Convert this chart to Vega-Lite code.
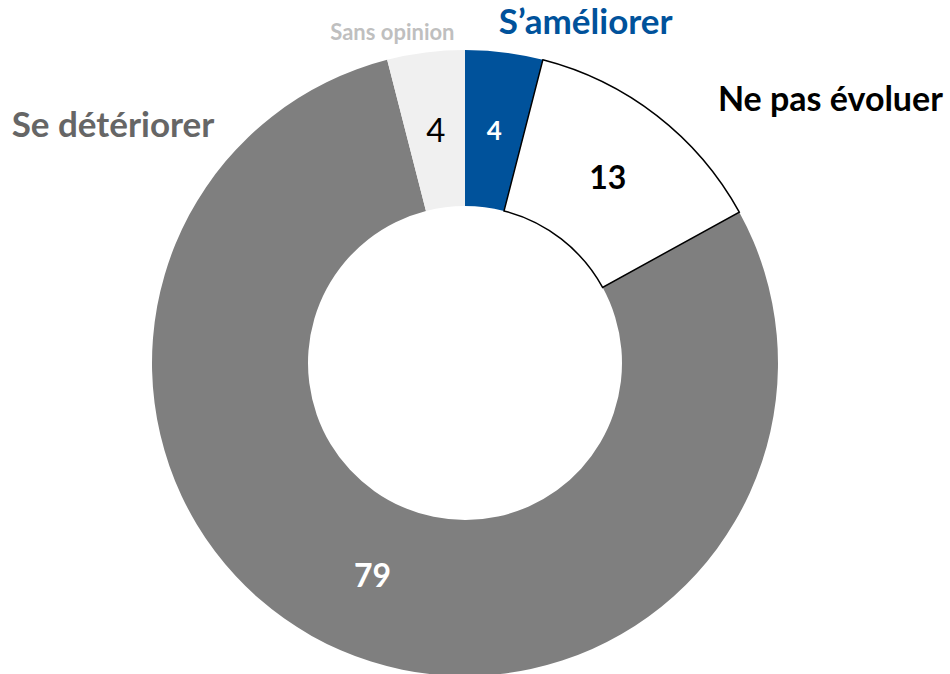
{
  "$schema": "https://vega.github.io/schema/vega-lite/v6.json",
  "width": 930,
  "height": 622,
  "autosize": {"type": "none"},
  "padding": {"left": 0, "top": 52, "right": 20, "bottom": 0},
  "background": "white",
  "config": {"view": {"stroke": null}, "text": {"font": "Lato"}},
  "data": {
    "values": [
      {"cat": "S’améliorer", "value": 4, "rank": 1},
      {"cat": "Ne pas évoluer", "value": 13, "rank": 2},
      {"cat": "Se détériorer", "value": 79, "rank": 3},
      {"cat": "Sans opinion", "value": 4, "rank": 4}
    ]
  },
  "encoding": {
    "theta": {"field": "value", "type": "quantitative", "stack": true},
    "order": {"field": "rank", "type": "quantitative"}
  },
  "layer": [
    {
      "mark": {"type": "arc", "radius": 313, "radius2": 157},
      "encoding": {
        "color": {
          "field": "cat",
          "type": "nominal",
          "scale": {
            "domain": ["S’améliorer", "Ne pas évoluer", "Se détériorer", "Sans opinion"],
            "range": ["#00529B", "#FFFFFF", "#7F7F7F", "#F0F0F0"]
          },
          "legend": null
        }
      }
    },
    {
      "mark": {"type": "arc", "radius": 313, "radius2": 157, "fillOpacity": 0, "strokeWidth": 1.5},
      "encoding": {
        "stroke": {"condition": {"test": "datum.cat === 'Ne pas évoluer'", "value": "#000000"}, "value": "transparent"}
      }
    },
    {
      "mark": {"type": "text", "radius": 233, "fontWeight": "bold", "align": "center", "baseline": "middle"},
      "encoding": {
        "text": {"condition": {"test": "datum.cat !== 'Sans opinion'", "field": "value"}, "value": ""},
        "color": {"condition": {"test": "datum.cat === 'Ne pas évoluer'", "value": "#000000"}, "value": "#FFFFFF"},
        "size": {"condition": {"test": "datum.cat === 'S’améliorer'", "value": 26}, "value": 32}
      }
    },
    {
      "mark": {"type": "text", "radius": 233, "fontWeight": "normal", "align": "center", "baseline": "middle", "fontSize": 33, "color": "#000000"},
      "encoding": {
        "text": {"condition": {"test": "datum.cat === 'Sans opinion'", "field": "value"}, "value": ""}
      }
    },
    {
      "mark": {"type": "text", "radius": 340, "fontWeight": "bold", "align": "center", "baseline": "middle", "fontSize": 35, "color": "#00529B", "dx": 78, "dy": -3},
      "encoding": {
        "text": {"condition": {"test": "datum.cat === 'S’améliorer'", "field": "cat"}, "value": ""}
      }
    },
    {
      "mark": {"type": "text", "radius": 340, "fontWeight": "bold", "align": "center", "baseline": "middle", "fontSize": 34, "color": "#000000", "dx": 157, "dy": 7},
      "encoding": {
        "text": {"condition": {"test": "datum.cat === 'Ne pas évoluer'", "field": "cat"}, "value": ""}
      }
    },
    {
      "mark": {"type": "text", "radius": 340, "fontWeight": "bold", "align": "center", "baseline": "middle", "fontSize": 35, "color": "#666666", "dx": -217, "dy": -549},
      "encoding": {
        "text": {"condition": {"test": "datum.cat === 'Se détériorer'", "field": "cat"}, "value": ""}
      }
    },
    {
      "mark": {"type": "text", "radius": 340, "fontWeight": "bold", "align": "center", "baseline": "middle", "fontSize": 22, "color": "#BFBFBF", "dx": -30, "dy": 7},
      "encoding": {
        "text": {"condition": {"test": "datum.cat === 'Sans opinion'", "field": "cat"}, "value": ""}
      }
    }
  ]
}
